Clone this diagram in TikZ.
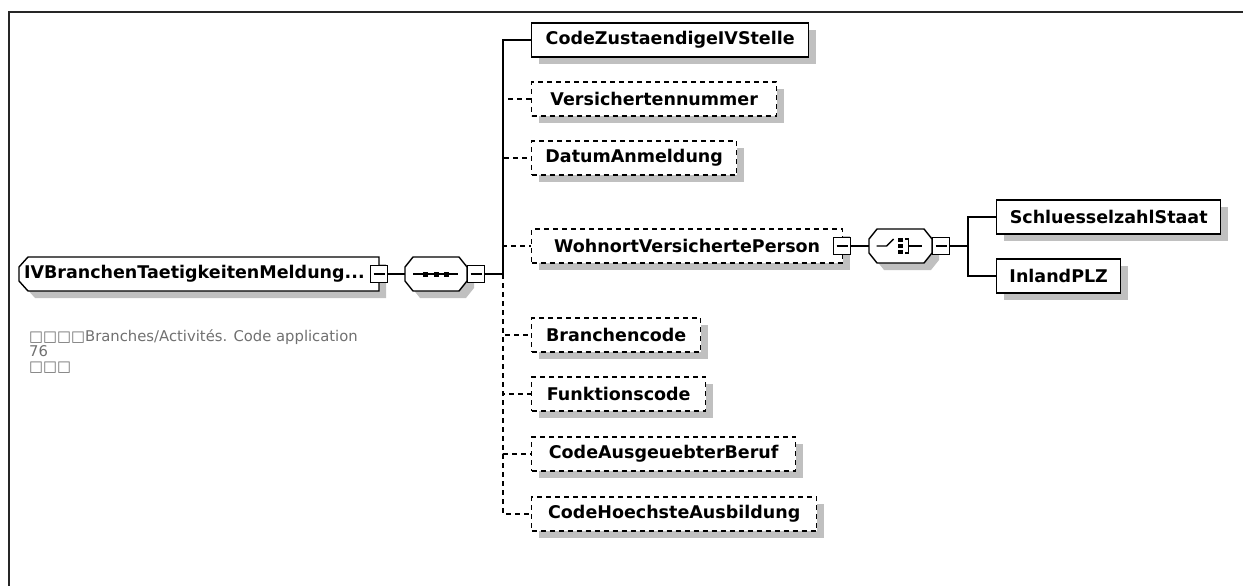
\documentclass[tikz,border=0pt]{standalone}
\usepackage{fontspec}
\setmainfont{DejaVu Sans}
\usetikzlibrary{shadows}

\pgfdeclarelayer{fondo}
\pgfsetlayers{fondo,main}

\definecolor{sombra}{RGB}{192,192,192}
\definecolor{notaGris}{RGB}{112,112,112}

\begin{document}
\begin{tikzpicture}[
    x=1pt, y=-1pt,
    % Estilo para los elementos (caja con sombra)
    elemento/.style={
        rectangle,
        draw=black,
        fill=white,
        line width=1.4pt,
        minimum height=34pt,
        inner sep=0pt,
        anchor=west,
        font=\bfseries\fontsize{17.5}{20}\selectfont,
        general shadow={fill=sombra, shadow xshift=7pt, shadow yshift=-7pt}
    },
    % Estilo para los elementos opcionales (borde punteado)
    opcional/.style={
        elemento,
        dash pattern=on 5pt off 4pt
    },
    % Estilo para nodos sin borde (el contorno se dibuja en el fondo)
    hueco/.style={
        rectangle,
        minimum height=34pt,
        inner sep=0pt,
        outer sep=0pt,
        anchor=west,
        font=\bfseries\fontsize{17.5}{20}\selectfont
    },
    % Estilo para los contornos cortados (raiz y compositores)
    contorno/.style={
        draw=black,
        fill=white,
        line width=1.4pt,
        general shadow={fill=sombra, shadow xshift=7pt, shadow yshift=-7pt}
    },
    % Estilo para el boton de plegar (cuadrado con signo menos)
    menos/.style={
        rectangle,
        draw=black,
        fill=white,
        line width=1.4pt,
        minimum size=17pt,
        inner sep=0pt,
        path picture={
            \draw[line width=1.4pt]
                ([xshift=3pt]path picture bounding box.west) --
                ([xshift=-3pt]path picture bounding box.east);
        }
    },
    % Estilo para las conexiones
    linea/.style={line width=1.4pt},
    lineaOpc/.style={linea, dash pattern=on 5pt off 4pt}
]
    \useasboundingbox (0,0) rectangle (1243,586);

    % --- MARCO ---
    \draw[line width=2pt, black!85] (9,586) -- (9,12) -- (1243,12);

    % --- ELEMENTO RAIZ Y SECUENCIA ---
    \node[hueco, text width=350pt, inner xsep=5pt, align=left] (raiz) at (19,274) {IVBranchenTaetigkeitenMeldung...};
    \node[menos] (raizMenos) at (379,274) {};
    \node[hueco, minimum width=62pt] (secuencia) at (405,274) {};
    \node[menos] (secuenciaMenos) at (476,274) {};
    \coordinate (tronco) at (503,274);

    % --- NOTA ---
    \node[anchor=north west, inner sep=0pt, align=left, text=notaGris,
          font=\fontsize{14.8}{15}\selectfont] (nota) at (29,329)
        {□□□□Branches/Activités. Code application\\76\\□□□};

    % --- HIJOS DE LA SECUENCIA ---
    \node[elemento, minimum width=277pt] (codeZust) at (531,40) {CodeZustaendigeIVStelle};
    \node[opcional, minimum width=245pt] (versNr) at (531,99) {Versichertennummer};
    \node[opcional, minimum width=205pt] (datum) at (531,158) {DatumAnmeldung};
    \node[opcional, minimum width=311pt] (wohnort) at (531,246) {WohnortVersichertePerson};
    \node[menos] (wohnortMenos) at (842,246) {};
    \node[opcional, minimum width=169pt] (branchen) at (531,335) {Branchencode};
    \node[opcional, minimum width=174pt] (funktion) at (531,394) {Funktionscode};
    \node[opcional, minimum width=264pt] (beruf) at (531,454) {CodeAusgeuebterBeruf};
    \node[opcional, minimum width=285pt] (ausbildung) at (531,514) {CodeHoechsteAusbildung};

    % --- AUSWAHL (CHOICE) ---
    \node[hueco, minimum width=63pt] (auswahl) at (869,246) {};
    \node[menos] (auswahlMenos) at (941,246) {};
    \coordinate (rama) at (968,246);
    \node[elemento, minimum width=224pt] (schluessel) at (996,217) {SchluesselzahlStaat};
    \node[elemento, minimum width=124pt] (inland) at (996,276) {InlandPLZ};

    % --- CONTORNOS CORTADOS (en el fondo, debajo del texto) ---
    \begin{pgfonlayer}{fondo}
        \path[contorno] ([xshift=9pt]raiz.north west) -- (raiz.north east)
            -- (raiz.south east) -- ([xshift=9pt]raiz.south west)
            -- ([yshift=10pt]raiz.south west) -- ([yshift=-10pt]raiz.north west) -- cycle;
        \foreach \n in {secuencia,auswahl}
            \path[contorno] ([xshift=8pt]\n.north west) -- ([xshift=-8pt]\n.north east)
                -- ([yshift=-10pt]\n.north east) -- ([yshift=10pt]\n.south east)
                -- ([xshift=-8pt]\n.south east) -- ([xshift=8pt]\n.south west)
                -- ([yshift=10pt]\n.south west) -- ([yshift=-10pt]\n.north west) -- cycle;
    \end{pgfonlayer}

    % --- SIMBOLOS DE LOS COMPOSITORES ---
    \draw[linea] ([xshift=-23pt]secuencia.center) -- ([xshift=22pt]secuencia.center);
    \foreach \dx in {-10.5,0,10.5}
        \fill ([xshift=\dx pt]secuencia.center) +(-2.5,-2.5) rectangle +(2.5,2.5);

    \draw[linea] ([xshift=-24pt]auswahl.center) -- ++(10,0) -- ++(7,-7);
    \foreach \dy in {-6,0,6}
        \fill ([shift={(0,\dy)}]auswahl.center) +(-2.2,-2.2) rectangle +(2.2,2.2);
    \draw[linea] ([shift={(4,-7)}]auswahl.center) -- ++(4,0) -- ++(0,14) -- ++(-4,0);
    \draw[linea] ([xshift=8pt]auswahl.center) -- ++(13,0);

    % --- CONEXIONES ---
    \draw[linea] (raizMenos) -- (secuencia);
    \draw[linea] (secuenciaMenos) -- (tronco);
    \draw[linea] (tronco) |- (codeZust);
    \draw[lineaOpc] (tronco) |- (versNr);
    \draw[lineaOpc] (tronco) |- (datum);
    \draw[lineaOpc] (tronco) |- (wohnort);
    \draw[lineaOpc] (tronco) |- (branchen);
    \draw[lineaOpc] (tronco) |- (funktion);
    \draw[lineaOpc] (tronco) |- (beruf);
    \draw[lineaOpc] (tronco) |- (ausbildung);
    \draw[linea] (wohnortMenos) -- (auswahl);
    \draw[linea] (auswahlMenos) -- (rama);
    \draw[linea] (rama) |- (schluessel);
    \draw[linea] (rama) |- (inland);

\end{tikzpicture}
\end{document}
